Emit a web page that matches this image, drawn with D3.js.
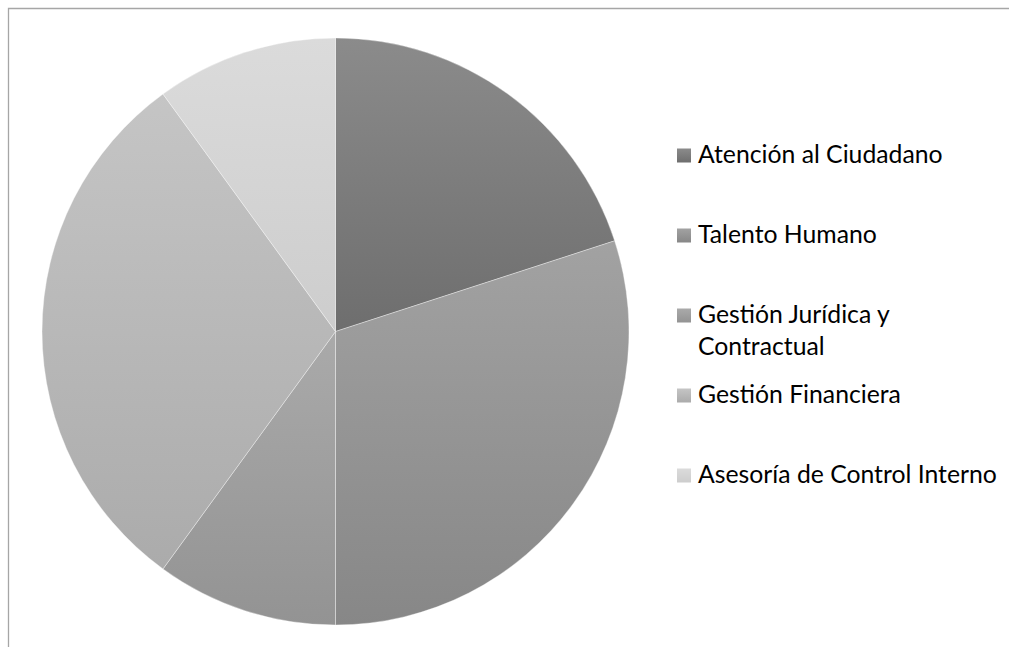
<!DOCTYPE html>
<html><head><meta charset="utf-8">
<script src="https://cdn.jsdelivr.net/npm/d3@7"></script>
<style>html,body{margin:0;padding:0;background:#fff;overflow:hidden;}svg{display:block;}</style>
</head><body>
<svg id="c" width="1009" height="647"></svg>
<script>
const categories = ["Atención al Ciudadano","Talento Humano","Gestión Jurídica y Contractual","Gestión Financiera","Asesoría de Control Interno"];
const values = [20,30,10,30,10];
const legendLines = [["Atención al Ciudadano"],["Talento Humano"],["Gestión Jurídica y","Contractual"],["Gestión Financiera"],["Asesoría de Control Interno"]];
const topColors = ["#8b8b8b","#a2a2a2","#aaaaaa","#c5c5c5","#dbdbdb"];
const bottomColors = ["#6e6e6e","#878787","#939393","#ababab","#cdcdcd"];

const svg = d3.select("#c");
const defs = svg.append("defs");
categories.forEach((c,i)=>{
  const g = defs.append("linearGradient").attr("id","g"+i).attr("x1",0).attr("y1",0).attr("x2",0).attr("y2",1);
  g.append("stop").attr("offset","0%").attr("stop-color",topColors[i]);
  g.append("stop").attr("offset","100%").attr("stop-color",bottomColors[i]);
});

// chart border (cropped: only left and top edges visible)
svg.append("path").attr("d","M8.5,660V8.5H1020")
  .attr("fill","none").attr("stroke","#a6a6a6").attr("stroke-width",1.3);

const cx=335.5, cy=331.5, r=293.5;
const pie = d3.pie().sort(null).value(d=>d);
const arc = d3.arc().innerRadius(0).outerRadius(r);
const gp = svg.append("g").attr("transform",`translate(${cx},${cy})`);
gp.selectAll("path").data(pie(values)).join("path")
  .attr("d",arc).attr("fill",(d,i)=>`url(#g${i})`)
  .attr("stroke","rgba(255,255,255,0.35)").attr("stroke-width",1).attr("stroke-linejoin","round");

// legend
const font = "Lato, 'Open Sans', sans-serif";
const targetWidth = 299; // width of "Asesoría de Control Interno"
const probe = svg.append("text").attr("font-family",font).attr("font-size",100).text(categories[4]);
const fs = 100*targetWidth/probe.node().getComputedTextLength();
probe.remove();

const baseY = d3.scalePoint().domain(categories).range([163,483]);
const lg = svg.append("g");
categories.forEach((c,i)=>{
  const y = baseY(c);
  lg.append("rect").attr("x",677).attr("y",y-14.5).attr("width",14).attr("height",14).attr("fill",`url(#g${i})`);
  const t = lg.append("text").attr("x",698).attr("y",y).attr("font-family",font).attr("font-size",fs).attr("fill","#000");
  legendLines[i].forEach((l,j)=>{
    t.append("tspan").attr("x",698).attr("y",y+j*32).text(l);
  });
});
</script>
</body></html>
